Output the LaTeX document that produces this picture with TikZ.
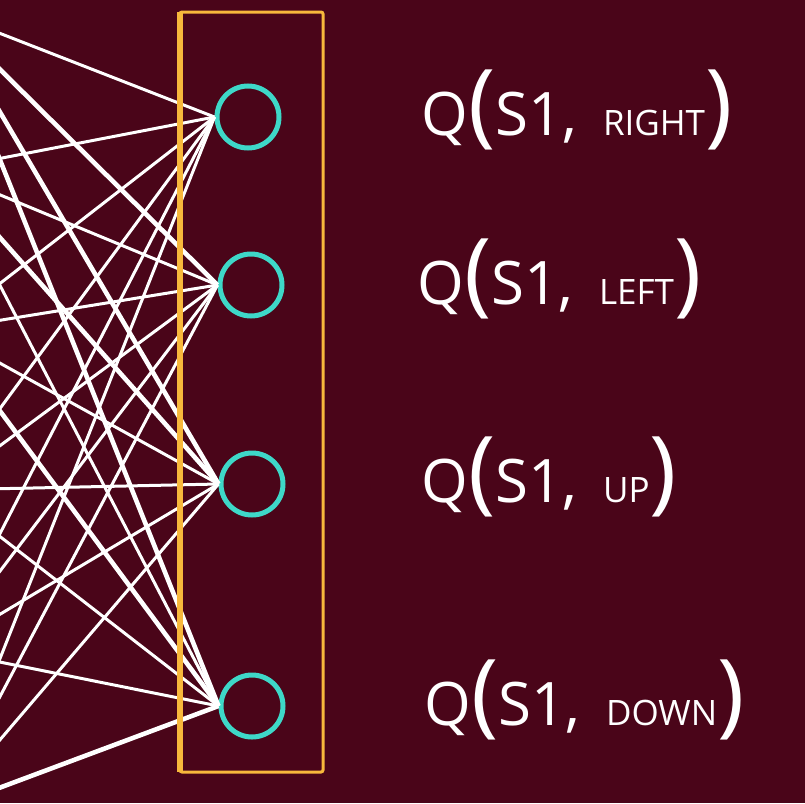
\documentclass[tikz,border=0pt]{standalone}
\usepackage{fontspec}
\setmainfont{Open Sans}
\definecolor{wine}{HTML}{4A0519}
\definecolor{teal}{HTML}{3ED8C8}
\definecolor{amber}{HTML}{F8B83C}
\newcommand{\qval}[1]{Q{\fontsize{92}{92}\selectfont(}S1,\, {\fontsize{35}{35}\selectfont #1}{\fontsize{92}{92}\selectfont)}}
\tikzset{
  outnode/.style={circle,draw=teal,line width=5pt,minimum size=62pt,inner sep=0pt},
  qlabel/.style={anchor=west,text=white,font=\fontsize{60}{60}\selectfont},
  wire/.style={white,line width=3pt},
  fatwire/.style={white,line width=4.6pt}
}
\begin{document}
\begin{tikzpicture}[x=1pt,y=-1pt]
\useasboundingbox (0,0) rectangle (805,803);
\fill[wine] (0,0) rectangle (805,803);
\clip (0,0) rectangle (805,803);
\foreach \i/\y in {1/10,2/170,3/330,4/490,5/650,6/810} {
\coordinate (h\i) at (-60,\y);
};
\node[outnode] (o1) at (248,117) {};
\node[outnode] (o2) at (251,285) {};
\node[outnode] (o3) at (252,484) {};
\node[outnode] (o4) at (252,706) {};
\foreach \i in {1,...,6} {
 \foreach \j in {1,...,4} {
  \pgfmathtruncatemacro{\w}{(\i==1 && \j>1) || (\i==6 && \j==4) || (\i==2 && \j==3) || (\i==3 && \j==4)}
  \ifnum\w=1
   \draw[fatwire] (h\i)--(o\j.west) ;
  \else
   \draw[wire] (h\i)--(o\j.west) ;
  \fi
};};
\draw[amber,line width=3pt,rounded corners=2pt] (180,12) rectangle (323,772);
\draw[amber,line width=5.5pt] (180,12)--(180,772);
\node[qlabel] (q1) at (418,110) {\qval{RIGHT}};
\node[qlabel] (q2) at (414,279) {\qval{LEFT}};
\node[qlabel] (q3) at (418,477) {\qval{UP}};
\node[qlabel] (q4) at (421,700) {\qval{DOWN}};
\end{tikzpicture}
\end{document}
